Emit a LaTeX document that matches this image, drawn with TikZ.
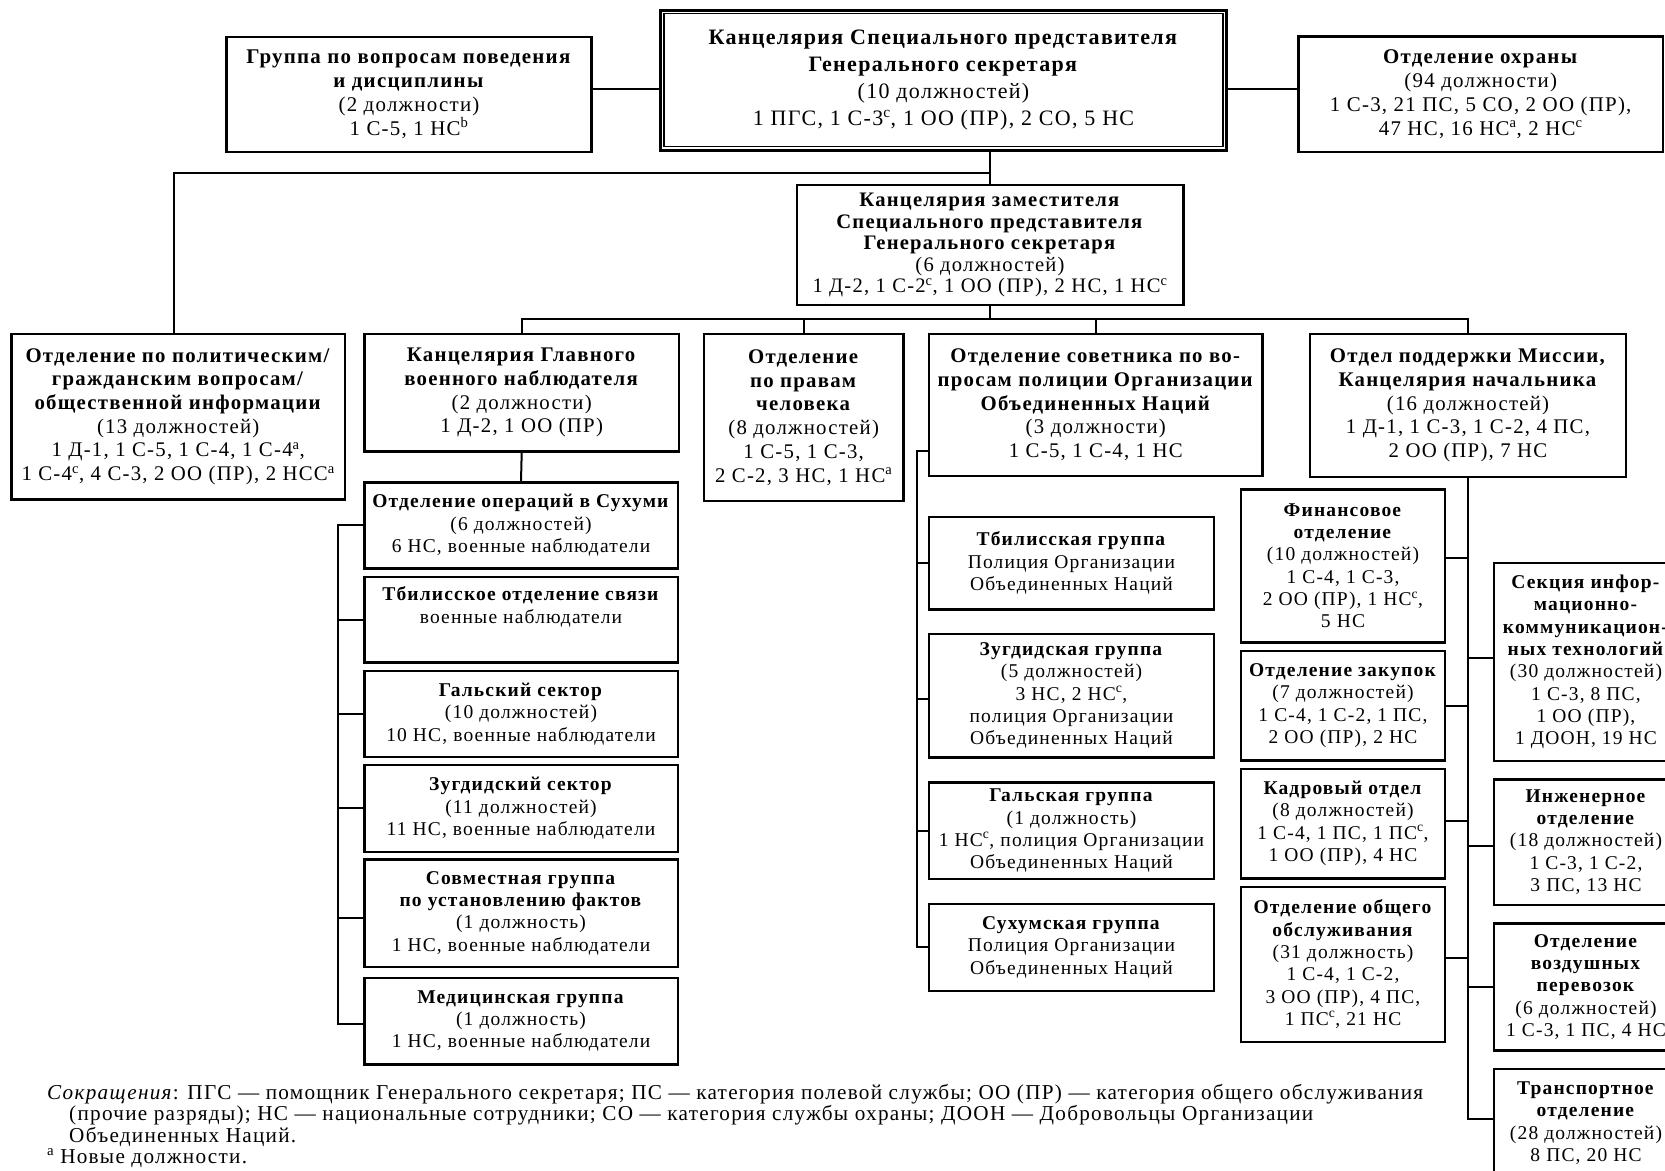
\documentclass[tikz,border=0pt]{standalone}
\usepackage{fontspec}
\setmainfont{Liberation Serif}[LetterSpace=6]
\usetikzlibrary{calc}
\newcommand\hb[1]{\textbf{#1}}
\newcommand\sps[1]{\textsuperscript{#1}}
\tikzset{
  box/.style={draw, line width=2.4pt, inner sep=0pt, align=center},
  conn/.style={line width=2pt},
  fsub/.style={font=\fontsize{19.5}{22.3}\selectfont},
  frow/.style={font=\fontsize{20.8}{23.7}\selectfont},
  fdep/.style={font=\fontsize{20.6}{21.5}\selectfont},
  ftop/.style={font=\fontsize{20.9}{24}\selectfont},
  fmain/.style={font=\fontsize{22}{27}\selectfont},
  ffoot/.style={font=\fontsize{21.2}{21.5}\selectfont},
  gsub/.style={box, fsub, minimum width=313.4pt},
  psub/.style={box, fsub, minimum width=285pt},
  lsub/.style={box, fsub, minimum width=204pt},
  rsub/.style={box, fsub, minimum width=184pt},
  foot/.style={ffoot, anchor=base west, inner sep=0pt}
}
\begin{document}
\begin{tikzpicture}[x=1pt,y=-1pt]
\fill[white] (0,0) rectangle (1665,1170);
\useasboundingbox (0,0) rectangle (1665,1170);

% top row
\node[box, ftop, minimum width=365pt, minimum height=115pt] (grp) at (409,94.2)
  {\hb{Группа по вопросам поведения}\\\hb{и дисциплины}\\(2 должности)\\1 С-5, 1 НС\sps{b}};
\node[box, fmain, line width=3pt, minimum width=566pt, minimum height=140pt] (main) at (943.5,80)
  {\hb{Канцелярия Специального представителя}\\\hb{Генерального секретаря}\\(10 должностей)\\1 ПГС, 1 С-3\sps{c}, 1 ОО (ПР), 2 СО, 5 НС};
\draw[line width=1.5pt] ([shift={(5,5)}]main.north west) rectangle ([shift={(-5,-5)}]main.south east);
\node[box, ftop, minimum width=364.7pt, minimum height=115.5pt] (ohr) at (1480.7,94.2)
  {\hb{Отделение охраны}\\(94 должности)\\1 С-3, 21 ПС, 5 СО, 2 ОО (ПР),\\47 НС, 16 НС\sps{a}, 2 НС\sps{c}};

\node[box, fdep, minimum width=386.6pt, minimum height=120pt] (dep) at (990,245)
  {\hb{Канцелярия заместителя}\\\hb{Специального представителя}\\\hb{Генерального секретаря}\\(6 должностей)\\1 Д-2, 1 С-2\sps{c}, 1 ОО (ПР), 2 НС, 1 НС\sps{c}};

% second row
\node[box, frow, minimum width=333.6pt, minimum height=165.3pt] (pol) at (178.2,416.7)
  {\hb{Отделение по политическим/}\\\hb{гражданским вопросам/}\\\hb{общественной информации}\\(13 должностей)\\1 Д-1, 1 С-5, 1 С-4, 1 С-4\sps{a},\\1 С-4\sps{c}, 4 С-3, 2 ОО (ПР), 2 НСС\sps{a}};
\node[box, frow, minimum width=314.7pt, minimum height=117.7pt] (glav) at (521.7,392.8)
  {\hb{Канцелярия Главного}\\\hb{военного наблюдателя}\\(2 должности)\\1 Д-2, 1 ОО (ПР)};
\node[box, frow, minimum width=199.3pt, minimum height=167pt] (prava) at (803.7,417.5)
  {\hb{Отделение}\\\hb{по правам}\\\hb{человека}\\(8 должностей)\\1 С-5, 1 С-3,\\2 С-2, 3 НС, 1 НС\sps{a}};
\node[box, frow, minimum width=333.6pt, minimum height=141.7pt] (polic) at (1095.8,404.9)
  {\hb{Отделение советника по во-}\\\hb{просам полиции Организации}\\\hb{Объединенных Наций}\\(3 должности)\\1 С-5, 1 С-4, 1 НС};
\node[box, frow, minimum width=316pt, minimum height=142.7pt] (podd) at (1468,405.4)
  {\hb{Отдел поддержки Миссии,}\\\hb{Канцелярия начальника}\\(16 должностей)\\1 Д-1, 1 С-3, 1 С-2, 4 ПС,\\2 ОО (ПР), 7 НС};

% military observer subunits
\node[gsub, minimum height=86pt] (suh) at (521,525.3)
  {\hb{Отделение операций в Сухуми}\\(6 должностей)\\6 НС, военные наблюдатели};
\node[gsub, minimum height=85.6pt] (tbs) at (521,619.5)
  {\hb{Тбилисское отделение связи}\\военные наблюдатели\\\strut};
\node[gsub, minimum height=86.3pt] (gals) at (521,713.9)
  {\hb{Гальский сектор}\\(10 должностей)\\10 НС, военные наблюдатели};
\node[gsub, minimum height=86.7pt] (zugs) at (521,808.4)
  {\hb{Зугдидский сектор}\\(11 должностей)\\11 НС, военные наблюдатели};
\node[gsub, minimum height=107.4pt] (sovm) at (521,913)
  {\hb{Совместная группа}\\\hb{по установлению фактов}\\(1 должность)\\1 НС, военные наблюдатели};
\node[gsub, minimum height=86.6pt] (med) at (521,1021)
  {\hb{Медицинская группа}\\(1 должность)\\1 НС, военные наблюдатели};

% police subunits
\node[psub, minimum height=92.6pt] (tbg) at (1071.5,563)
  {\hb{Тбилисская группа}\\Полиция Организации\\Объединенных Наций};
\node[psub, minimum height=123.3pt] (zgg) at (1071.5,695.7)
  {\hb{Зугдидская группа}\\(5 должностей)\\3 НС, 2 НС\sps{c},\\полиция Организации\\Объединенных Наций};
\node[psub, minimum height=96.7pt] (gag) at (1071.5,830.7)
  {\hb{Гальская группа}\\(1 должность)\\1 НС\sps{c}, полиция Организации\\Объединенных Наций};
\node[psub, minimum height=86.7pt] (sug) at (1071.5,947.4)
  {\hb{Сухумская группа}\\Полиция Организации\\Объединенных Наций};

% support left column
\node[lsub, minimum height=153pt] (fin) at (1343,565.8)
  {\hb{Финансовое}\\\hb{отделение}\\(10 должностей)\\1 С-4, 1 С-3,\\2 ОО (ПР), 1 НС\sps{c},\\5 НС};
\node[lsub, minimum height=109.6pt] (zak) at (1343,705.5)
  {\hb{Отделение закупок}\\(7 должностей)\\1 С-4, 1 С-2, 1 ПС,\\2 ОО (ПР), 2 НС};
\node[lsub, minimum height=109.6pt] (kad) at (1343,823.5)
  {\hb{Кадровый отдел}\\(8 должностей)\\1 С-4, 1 ПС, 1 ПС\sps{c},\\1 ОО (ПР), 4 НС};
\node[lsub, minimum height=155pt] (obs) at (1343,964.2)
  {\hb{Отделение общего}\\\hb{обслуживания}\\(31 должность)\\1 С-4, 1 С-2,\\3 ОО (ПР), 4 ПС,\\1 ПС\sps{c}, 21 НС};

% support right column
\node[rsub, minimum height=198.3pt] (ikt) at (1586,661.9)
  {\hb{Секция инфор-}\\\hb{мационно-}\\\hb{коммуникацион-}\\\hb{ных технологий}\\(30 должностей)\\1 С-3, 8 ПС,\\1 ОО (ПР),\\1 ДООН, 19 НС};
\node[rsub, minimum height=125.4pt] (ing) at (1586,842)
  {\hb{Инженерное}\\\hb{отделение}\\(18 должностей)\\1 С-3, 1 С-2,\\3 ПС, 13 НС};
\node[rsub, minimum height=127pt] (air) at (1586,986.8)
  {\hb{Отделение}\\\hb{воздушных}\\\hb{перевозок}\\(6 должностей)\\1 С-3, 1 ПС, 4 НС};
\node[rsub, minimum height=108pt] (trn) at (1586,1123)
  {\hb{Транспортное}\\\hb{отделение}\\(28 должностей)\\8 ПС, 20 НС};

% connectors
\draw[conn] ([yshift=5.2pt]grp.east) -- ([yshift=5.2pt]grp.east -| main.west);
\draw[conn] ([yshift=5.2pt]ohr.west) -- ([yshift=5.2pt]ohr.west -| main.east);
\coordinate (b1) at (990,172.7);
\coordinate (b2) at (990,319.3);
\draw[conn] (main.south -| dep.north) -- (dep.north);
\draw[conn] (b1) -- (b1 -| 174,0) -- (174,0 |- pol.north);
\draw[conn] (dep.south) -- (b2);
\draw[conn] (glav.north) -- (glav.north |- b2) -- (podd.north |- b2) -- (podd.north);
\draw[conn] (prava.north |- b2) -- (prava.north);
\draw[conn] (polic.north |- b2) -- (polic.north);

% observer tree
\draw[conn] (glav.south) -- (suh.north);
\coordinate (gs) at (337.7,0);
\draw[conn] (suh.west) -- (suh.west -| gs) -- ([yshift=-3.3pt]med.west -| gs) -- ([yshift=-3.3pt]med.west);
\draw[conn] (tbs.west) -- (tbs.west -| gs);
\draw[conn] (gals.west) -- (gals.west -| gs);
\draw[conn] (zugs.west) -- (zugs.west -| gs);
\draw[conn] ([yshift=-5.3pt]sovm.west) -- ([yshift=-5.3pt]sovm.west -| gs);

% police tree
\coordinate (ps) at (917.3,0);
\draw[conn] ([yshift=26.4pt]polic.south west) -- ([yshift=26.4pt]polic.south west -| ps) -- (sug.west -| ps) -- (sug.west);
\draw[conn] (tbg.west) -- (tbg.west -| ps);
\draw[conn] ([yshift=-3.3pt]zgg.west) -- ([yshift=-3.3pt]zgg.west -| ps);
\draw[conn] (gag.west) -- (gag.west -| ps);

% support tree
\draw[conn] (podd.south) -- ([yshift=3.7pt]trn.west -| podd.south) -- ([yshift=3.7pt]trn.west);
\draw[conn] ([yshift=7.5pt]fin.east) -- ([yshift=7.5pt]fin.east -| podd.south);
\draw[conn] (zak.east) -- (zak.east -| podd.south);
\draw[conn] ([yshift=2.8pt]kad.east) -- ([yshift=2.8pt]kad.east -| podd.south);
\draw[conn] ([yshift=6pt]obs.east) -- ([yshift=6pt]obs.east -| podd.south);
\draw[conn] ([yshift=3.6pt]ikt.west) -- ([yshift=3.6pt]ikt.west -| podd.south);
\draw[conn] ([yshift=-3.7pt]ing.west) -- ([yshift=-3.7pt]ing.west -| podd.south);
\draw[conn] (air.west) -- (air.west -| podd.south);

% footnotes
\node[foot] (fn1) at (47,1099) {\textit{Сокращения}: ПГС — помощник Генерального секретаря; ПС — категория полевой службы; ОО (ПР) — категория общего обслуживания};
\node[foot] (fn2) at (69,1120.5) {(прочие разряды); НС — национальные сотрудники; СО — категория службы охраны; ДООН — Добровольцы Организации};
\node[foot] (fn3) at (69,1142) {Объединенных Наций.};
\node[foot] (fn4) at (47,1163.5) {\sps{a}\hspace{6pt}Новые должности.};
\end{tikzpicture}
\end{document}
